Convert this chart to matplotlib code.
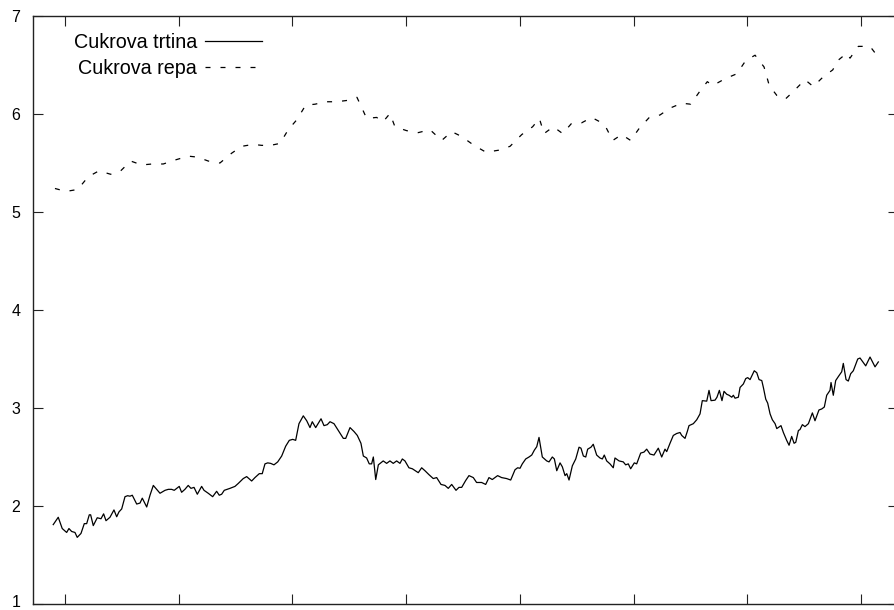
import matplotlib
matplotlib.use("Agg")
import matplotlib.pyplot as plt
from matplotlib.transforms import ScaledTranslation

plt.rcParams['font.family'] = ['Liberation Sans', 'DejaVu Sans']
plt.rcParams['lines.scale_dashes'] = False

# Series 1: Cukrova trtina (solid)
trtina_x = [
    -0.103, -0.059, -0.024, 0.015, 0.035, 0.059, 0.088, 0.108, 0.141, 0.170,
    0.191, 0.214, 0.226, 0.249, 0.284, 0.317, 0.340, 0.361, 0.396, 0.431,
    0.455, 0.475, 0.499, 0.528, 0.551, 0.572, 0.592, 0.631, 0.660, 0.680,
    0.719, 0.748, 0.777, 0.836, 0.880, 0.909, 0.938, 0.961, 1.005, 1.026,
    1.055, 1.084, 1.108, 1.135, 1.164, 1.202, 1.223, 1.260, 1.299, 1.334,
    1.357, 1.378, 1.401, 1.451, 1.495, 1.524, 1.568, 1.598, 1.642, 1.671,
    1.709, 1.735, 1.759, 1.783, 1.809, 1.838, 1.871, 1.906, 1.941, 1.973,
    2.003, 2.029, 2.058, 2.096, 2.126, 2.155, 2.175, 2.205, 2.252, 2.278,
    2.307, 2.331, 2.366, 2.404, 2.448, 2.469, 2.507, 2.542, 2.571, 2.603,
    2.624, 2.653, 2.676, 2.697, 2.712, 2.733, 2.756, 2.799, 2.829, 2.858,
    2.887, 2.917, 2.946, 2.967, 2.990, 3.025, 3.055, 3.107, 3.137, 3.166,
    3.201, 3.239, 3.269, 3.307, 3.342, 3.371, 3.401, 3.439, 3.465, 3.489,
    3.524, 3.553, 3.591, 3.620, 3.664, 3.700, 3.729, 3.758, 3.805, 3.840,
    3.884, 3.920, 3.958, 3.981, 4.002, 4.022, 4.052, 4.081, 4.105, 4.128,
    4.149, 4.169, 4.198, 4.237, 4.257, 4.286, 4.304, 4.325, 4.354, 4.374,
    4.398, 4.413, 4.433, 4.462, 4.492, 4.521, 4.538, 4.559, 4.580, 4.597,
    4.626, 4.646, 4.676, 4.705, 4.726, 4.743, 4.764, 4.793, 4.822, 4.837,
    4.873, 4.910, 4.931, 4.954, 4.975, 5.007, 5.028, 5.063, 5.092, 5.116,
    5.145, 5.180, 5.218, 5.248, 5.277, 5.292, 5.321, 5.350, 5.380, 5.409,
    5.424, 5.453, 5.473, 5.488, 5.526, 5.556, 5.585, 5.605, 5.644, 5.664,
    5.682, 5.717, 5.734, 5.755, 5.778, 5.796, 5.820, 5.840, 5.864, 5.878,
    5.893, 5.922, 5.937, 5.966, 5.987, 6.004, 6.025, 6.062, 6.084, 6.104,
    6.128, 6.142, 6.163, 6.180, 6.201, 6.221, 6.245, 6.260, 6.297, 6.318,
    6.347, 6.368, 6.391, 6.412, 6.427, 6.450, 6.464, 6.485, 6.508, 6.538,
    6.573, 6.596, 6.631, 6.655, 6.678, 6.699, 6.728, 6.737, 6.757, 6.778,
    6.801, 6.831, 6.845, 6.869, 6.889, 6.910, 6.933, 6.972, 6.992, 7.042,
    7.080, 7.124, 7.153,
]
trtina_y = [
    1.81, 1.885, 1.77, 1.73, 1.77, 1.74, 1.73, 1.68, 1.72, 1.82,
    1.82, 1.91, 1.91, 1.80, 1.88, 1.87, 1.92, 1.85, 1.885, 1.96,
    1.89, 1.94, 1.97, 2.095, 2.105, 2.10, 2.11, 2.02, 2.03, 2.08,
    1.99, 2.11, 2.21, 2.13, 2.16, 2.17, 2.17, 2.16, 2.20, 2.14,
    2.17, 2.21, 2.18, 2.19, 2.12, 2.20, 2.16, 2.13, 2.095, 2.15,
    2.11, 2.12, 2.16, 2.18, 2.20, 2.23, 2.28, 2.30, 2.255, 2.29,
    2.33, 2.33, 2.43, 2.44, 2.435, 2.42, 2.45, 2.51, 2.61, 2.67,
    2.68, 2.67, 2.84, 2.92, 2.87, 2.80, 2.86, 2.80, 2.89, 2.82,
    2.83, 2.86, 2.84, 2.77, 2.69, 2.69, 2.80, 2.76, 2.72, 2.64,
    2.51, 2.49, 2.43, 2.43, 2.50, 2.27, 2.42, 2.46, 2.435, 2.46,
    2.435, 2.46, 2.435, 2.48, 2.46, 2.39, 2.38, 2.34, 2.39, 2.36,
    2.32, 2.28, 2.29, 2.22, 2.21, 2.18, 2.22, 2.16, 2.19, 2.19,
    2.26, 2.31, 2.29, 2.24, 2.24, 2.22, 2.29, 2.27, 2.31, 2.29,
    2.28, 2.265, 2.37, 2.39, 2.385, 2.43, 2.48, 2.50, 2.52, 2.57,
    2.605, 2.70, 2.50, 2.46, 2.45, 2.50, 2.48, 2.36, 2.44, 2.40,
    2.31, 2.33, 2.265, 2.41, 2.48, 2.60, 2.59, 2.51, 2.50, 2.58,
    2.60, 2.63, 2.52, 2.49, 2.48, 2.52, 2.46, 2.43, 2.39, 2.49,
    2.46, 2.45, 2.42, 2.43, 2.38, 2.44, 2.43, 2.54, 2.55, 2.58,
    2.53, 2.52, 2.59, 2.50, 2.58, 2.555, 2.64, 2.72, 2.74, 2.75,
    2.72, 2.69, 2.76, 2.82, 2.84, 2.88, 2.94, 3.075, 3.07, 3.18,
    3.075, 3.08, 3.11, 3.18, 3.075, 3.17, 3.14, 3.13, 3.11, 3.13,
    3.10, 3.11, 3.21, 3.245, 3.30, 3.31, 3.29, 3.38, 3.36, 3.29,
    3.28, 3.21, 3.09, 3.05, 2.94, 2.88, 2.84, 2.79, 2.82, 2.75,
    2.67, 2.62, 2.71, 2.64, 2.65, 2.77, 2.78, 2.83, 2.81, 2.84,
    2.95, 2.87, 2.98, 2.99, 3.01, 3.13, 3.18, 3.26, 3.13, 3.28,
    3.32, 3.37, 3.455, 3.29, 3.275, 3.35, 3.38, 3.50, 3.51, 3.43,
    3.52, 3.42, 3.47,
]

# Series 2: Cukrova repa (dashed)
repa_x = [
    -0.088, 0.009, 0.112, 0.205, 0.299, 0.402, 0.490, 0.578, 0.675, 0.768,
    0.865, 0.967, 1.084, 1.167, 1.260, 1.363, 1.466, 1.554, 1.656, 1.730,
    1.809, 1.891, 1.964, 2.038, 2.117, 2.199, 2.296, 2.390, 2.492, 2.568,
    2.612, 2.653, 2.741, 2.797, 2.858, 2.902, 3.005, 3.107, 3.210, 3.313,
    3.401, 3.489, 3.597, 3.703, 3.811, 3.914, 4.017, 4.113, 4.172, 4.213,
    4.295, 4.377, 4.456, 4.544, 4.632, 4.705, 4.755, 4.817, 4.896, 4.975,
    5.051, 5.139, 5.233, 5.321, 5.424, 5.503, 5.576, 5.649, 5.697, 5.805,
    5.908, 5.987, 6.069, 6.148, 6.194, 6.260, 6.333, 6.406, 6.508, 6.581,
    6.669, 6.752, 6.801, 6.875, 6.904, 6.977, 7.080, 7.153,
]
repa_y = [
    5.24, 5.21, 5.23, 5.36, 5.42, 5.385, 5.42, 5.52, 5.48, 5.49,
    5.49, 5.53, 5.57, 5.56, 5.52, 5.50, 5.60, 5.67, 5.69, 5.68,
    5.68, 5.70, 5.84, 5.94, 6.09, 6.10, 6.125, 6.125, 6.14, 6.17,
    6.06, 5.955, 5.965, 5.92, 6.005, 5.87, 5.83, 5.81, 5.84, 5.73,
    5.82, 5.77, 5.68, 5.61, 5.63, 5.67, 5.79, 5.87, 5.955, 5.80,
    5.87, 5.80, 5.905, 5.91, 5.965, 5.92, 5.87, 5.73, 5.79, 5.73,
    5.855, 5.965, 5.99, 6.06, 6.11, 6.10, 6.22, 6.33, 6.29, 6.36,
    6.41, 6.545, 6.60, 6.48, 6.29, 6.19, 6.15, 6.23, 6.35, 6.28,
    6.38, 6.45, 6.55, 6.62, 6.57, 6.69, 6.69, 6.58,
]

labels = ["Cukrova trtina", "Cukrova repa"]
x_ticks = [0, 1, 2, 3, 4, 5, 6, 7]
y_ticks = [1, 2, 3, 4, 5, 6, 7]

W, H = 894, 610
fig = plt.figure(figsize=(W / 100, H / 100), dpi=100)
ax = fig.add_axes([33 / W, 6 / H, (898 - 33) / W, 588 / H])

ax.plot(trtina_x, trtina_y, color='black', lw=0.9, label=labels[0])
ax.plot(repa_x, repa_y, color='black', lw=0.9, linestyle=(0, (3.6, 7.2)),
        label=labels[1])

ax.set_xlim(-0.281, 7.326)
ax.set_ylim(1, 7)
ax.set_xticks(x_ticks)
ax.set_yticks(y_ticks)
ax.set_xticklabels([])
ax.tick_params(axis='both', direction='in', length=7.2, width=0.8,
               color='#222222')
ax.tick_params(axis='x', top=True, bottom=True)
ax.tick_params(axis='y', left=True, right=True, labelsize=11.5, pad=9.0)
for s in ax.spines.values():
    s.set_linewidth(1.0)
    s.set_color('#222222')

# keep the lowest label inside the canvas
fig.canvas.draw()
lowest = ax.get_yticklabels()[0]
lowest.set_transform(lowest.get_transform() +
                     ScaledTranslation(0, 3 / 100, fig.dpi_scale_trans))

leg = ax.legend(loc='upper right', bbox_to_anchor=(262 / W, 1 - 33 / H),
                bbox_transform=fig.transFigure, frameon=False,
                markerfirst=False, fontsize=14.2, handlelength=2.9,
                handletextpad=0.4, borderpad=0, borderaxespad=0,
                labelspacing=0.36)

fig.savefig("out.png", dpi=100)
